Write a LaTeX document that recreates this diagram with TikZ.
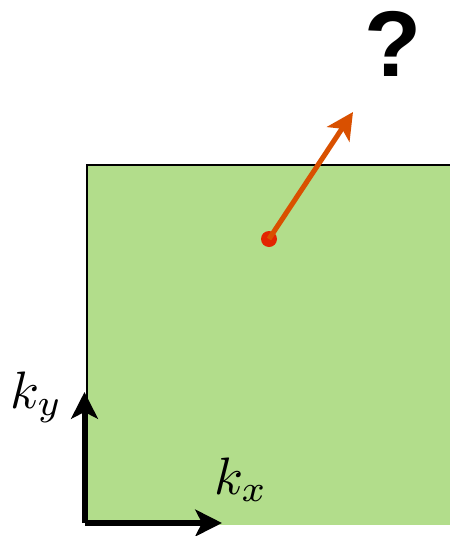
\documentclass[tikz,border=0pt]{standalone}
\usepackage{fontspec}
\usetikzlibrary{arrows.meta,positioning,calc}
\newfontfamily\qfont{Liberation Sans}
\definecolor{leaf}{HTML}{B2DD8B}
\definecolor{flame}{HTML}{D95000}
\definecolor{dotred}{HTML}{E32400}

\begin{document}
\begin{tikzpicture}[x=0.75pt,y=-0.75pt,
  axis/.style={line width=3.8pt,-{Stealth[length=20pt,width=20pt,inset=5pt]}},
  klabel/.style={anchor=base west,inner sep=0pt,scale=3.95}]
\useasboundingbox (0,0) rectangle (450,536);
\fill[leaf] (87,165) rectangle (450,525);
\draw[line width=0.8pt] (450,165) -- (87,165) -- (87,525);
% axes
\coordinate (origin) at (84.5,523);
\coordinate (kxend) at (222,523);
\coordinate (kyend) at (84.5,392);
\draw[axis] (origin) -- (kxend);
\draw[axis] (origin) -- (kyend);
\node[klabel] (kx) at (213,494) {$k_x$};
\node[klabel] (ky) at (9,408) {$k_y$};
% point and direction
\node[circle,fill=dotred,inner sep=0pt,minimum size=12pt] (dot) at (269,239) {};
\coordinate (tip) at (353,112);
\draw[flame,line width=3.8pt,-{Stealth[length=20pt,width=20pt,inset=5pt]}] (dot.center) -- (tip);
\node (quest) at (393,44) {\qfont\bfseries\fontsize{70}{76}\selectfont ?};
\end{tikzpicture}
\end{document}
